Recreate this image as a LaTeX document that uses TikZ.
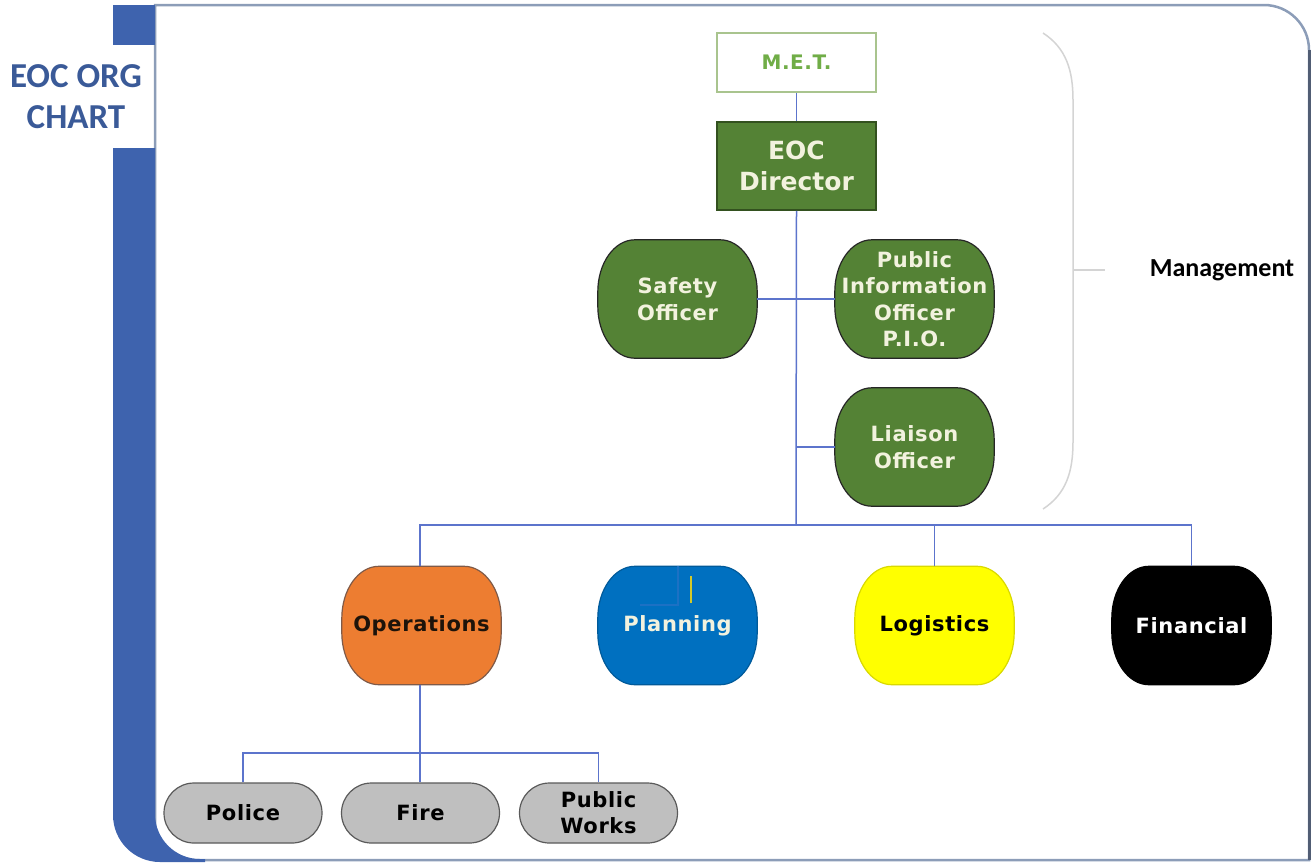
\documentclass[tikz,border=0pt]{standalone}
\usepackage{fontspec}
\setmainfont{DejaVu Sans}
\newfontfamily\calibrifont{Carlito}
\newfontfamily\boxfont[LetterSpace=3]{DejaVu Sans}

\definecolor{framblue}{HTML}{3E63AE}
\definecolor{titleblue}{HTML}{3A5A98}
\definecolor{panelline}{HTML}{8C9DB8}
\definecolor{paneldark}{HTML}{515D74}
\definecolor{linkblue}{HTML}{5C74CC}
\definecolor{eocgreen}{HTML}{548235}
\definecolor{eocgreenline}{HTML}{33511F}
\definecolor{ivory}{HTML}{F2F2DE}
\definecolor{metgreen}{HTML}{70AD47}
\definecolor{metline}{HTML}{A9C48E}
\definecolor{opsorange}{HTML}{ED7D31}
\definecolor{opsline}{HTML}{7F5A48}
\definecolor{planblue}{HTML}{0070C0}
\definecolor{logyellow}{HTML}{FFFF00}
\definecolor{subgray}{HTML}{BFBFBF}
\definecolor{subline}{HTML}{5A5A5A}
\definecolor{bracegray}{HTML}{D4D4D4}

\pgfdeclarelayer{frame}
\pgfdeclarelayer{shapes}
\pgfsetlayers{frame,shapes,main}

\tikzstyle{link}=[draw=linkblue, line width=1.5pt]

\tikzstyle{metbox}=[rectangle,
                    draw=metline,
                    line width=1.5pt,
                    fill=white,
                    text=metgreen,
                    inner sep=0pt,
                    minimum width=159pt,
                    minimum height=59pt,
                    font=\boxfont\fontsize{20}{24}\selectfont\bfseries]

\tikzstyle{dirbox}=[rectangle,
                    draw=eocgreenline,
                    line width=1.5pt,
                    fill=eocgreen,
                    text=ivory,
                    inner sep=0pt,
                    align=center,
                    minimum width=159pt,
                    minimum height=88pt,
                    font=\fontsize{25}{31}\selectfont\bfseries]

\tikzstyle{barrel}=[rectangle,
                    inner sep=0pt,
                    align=center,
                    minimum width=159pt,
                    minimum height=118pt,
                    font=\boxfont\fontsize{21}{26.5}\selectfont\bfseries]

\tikzstyle{unit}=[rectangle,
                  rounded corners=30pt,
                  draw=subline,
                  line width=1.2pt,
                  fill=subgray,
                  text=black,
                  inner sep=0pt,
                  align=center,
                  minimum width=158pt,
                  minimum height=60pt,
                  font=\boxfont\fontsize{21}{26}\selectfont\bfseries]

\begin{document}
\begin{tikzpicture}[x=1pt,y=-1pt]
    \useasboundingbox (0,0) rectangle (1312,863);

    \begin{pgfonlayer}{frame}
    \draw[panelline, line width=2.5pt, fill=white] (155,860) -- (155,5) -- (1264,5)
        arc[start angle=-90, end angle=0, radius=45] -- (1309,860) -- cycle;
    \draw[paneldark, line width=3pt] (1309,50) -- (1309,860);
    \fill[framblue] (113,5) rectangle (155,45);
    \fill[framblue] (113,148) -- (113,815) arc[start angle=180, end angle=90, radius=47]
        -- (205,862) -- (205,859) -- (200,859) arc[start angle=90, end angle=180, radius=45]
        -- (155,148) -- cycle;
    \end{pgfonlayer}

    \node[text=titleblue, align=center, font=\calibrifont\fontsize{35}{41}\selectfont\bfseries]
        (title) at (76,97) {EOC ORG\\CHART};

    \draw[bracegray, line width=1.5pt] (1043,33) .. controls (1066,48) and (1073,70) .. (1073,100)
        -- (1073,442) .. controls (1073,472) and (1066,494) .. (1043,509);
    \draw[bracegray, line width=1.5pt] (1073,270) -- (1105,270);
    \node[font=\calibrifont\fontsize{26}{30}\selectfont\bfseries] (mgmt) at (1222,270) {Management};

    \node [metbox] (met) at (796.5,62.5) {M.E.T.};
    \node [dirbox] (dir) at (796.5,166) {EOC\\Director};
    \node [barrel, text=ivory] (safety) at (677.5,299) {Safety\\Officer};
    \node [barrel, text=ivory] (pio) at (914.5,299) {Public\\Information\\Officer\\P.I.O.};
    \node [barrel, text=ivory] (liaison) at (914.5,447) {Liaison\\Officer};
    \coordinate (bus) at (796,525);

    \node [barrel, text=black!85!brown] (ops) at (421.5,625.5) {Operations};
    \node [barrel, text=ivory] (plan) at (677.5,625.5) {Planning};
    \node [barrel, text=black] (log) at (934.5,625.5) {Logistics};
    \node [barrel, text=white] (fin) at (1191.5,625.5) {Financial};
    \coordinate (sub) at (420,753);

    \node [unit] (police) at (243,813) {Police};
    \node [unit] (fire) at (420.5,813) {Fire};
    \node [unit] (works) at (598.5,813) {Public\\Works};

    \begin{pgfonlayer}{shapes}
    \foreach \n/\f/\d in {safety/eocgreen/black!85, pio/eocgreen/black!85, liaison/eocgreen/black!85,
                          ops/opsorange/opsline, plan/planblue/planblue!80!black,
                          log/logyellow/logyellow!85!black, fin/black/black}
        \filldraw[fill=\f, draw=\d, line width=1.2pt]
            ([xshift=-37pt]\n.north east) arc[start angle=270, end angle=360, x radius=37, y radius=52]
            -- ([yshift=52pt]\n.south east) arc[start angle=0, end angle=90, x radius=37, y radius=52]
            -- ([xshift=37pt]\n.south west) arc[start angle=90, end angle=180, x radius=37, y radius=52]
            -- ([yshift=-52pt]\n.north west) arc[start angle=180, end angle=270, x radius=37, y radius=52]
            -- cycle;
    \end{pgfonlayer}

    \draw[link] (met.south) -- (dir.north);
    \draw[link] (dir.south) -- (bus);
    \draw[link] (safety.east) -- (pio.west);
    \draw[link] (liaison.west -| bus) -- (liaison.west);
    \draw[link] (ops.north -| 420,0) |- (bus) -| (fin.north);
    \draw[link] (plan.north -| 678,0) -- (plan.north -| 678,525);
    \draw[link] (log.north) -- (log.north |- bus);
    \draw[link] (ops.south -| sub) -- (sub);
    \draw[link] (police.north) |- (sub) -| (works.north);
    \draw[link] (fire.north -| sub) -- (sub);
    \draw[planblue!70!linkblue, line width=1.2pt] (678,566) -- (678,605) -- (640,605);
    \draw[yellow!80!black, line width=1.5pt] (691,576) -- (691,603);
\end{tikzpicture}
\end{document}
